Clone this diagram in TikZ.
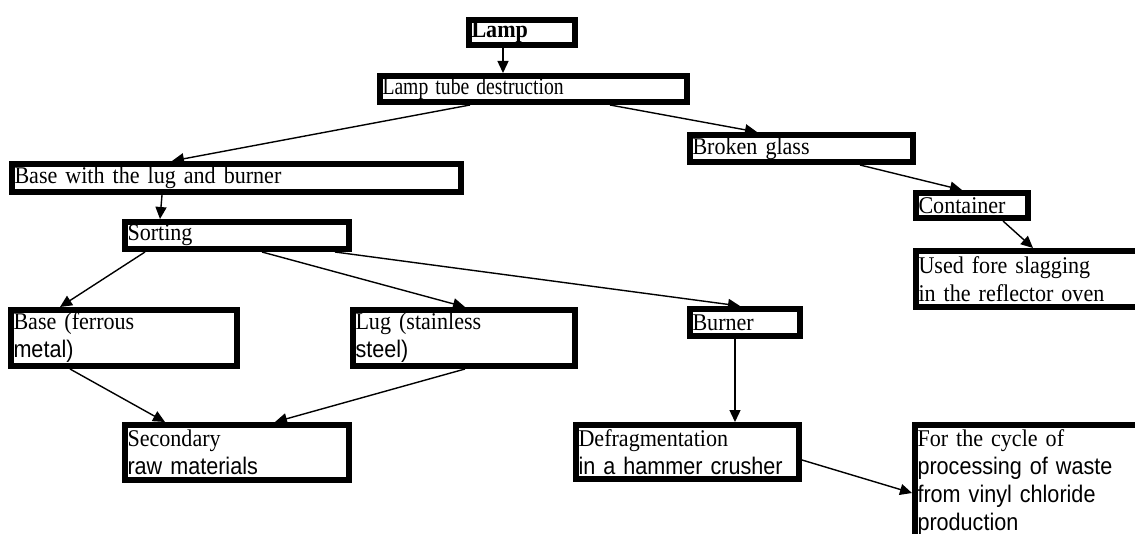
\documentclass[tikz,border=0pt]{standalone}
\usepackage{fontspec}
\setmainfont{Liberation Serif}[FakeStretch=0.92]
\setsansfont{Liberation Sans}[FakeStretch=0.9]
\usetikzlibrary{arrows.meta}
\begin{document}
\begin{tikzpicture}[x=1pt,y=-1pt,
  box/.style={draw, line width=6pt, inner xsep=2.5pt, inner ysep=0pt, align=left,
    font=\fontsize{24}{28}\selectfont, rectangle},
  arr/.style={-{Triangle[length=12pt,width=11pt]}, line width=1.4pt}]
\useasboundingbox (0,0) rectangle (1135,534);
\clip (0,0) rectangle (1135,534);
% boxes
\node[box, minimum width=106pt, minimum height=25pt, text width=101pt] (lamp) at (522,32.5) {\bfseries Lamp};
\node[box, minimum width=307pt, minimum height=26pt, text width=302pt] (tube) at (533.5,89) {\scalebox{0.89}[1]{Lamp tube destruction}};
\node[box, minimum width=223pt, minimum height=27pt, text width=218pt] (glass) at (801.5,148.5) {Broken glass};
\node[box, minimum width=449pt, minimum height=28pt, text width=444pt] (base0) at (236.5,178) {Base with the lug and burner};
\node[box, minimum width=112pt, minimum height=25pt, text width=107pt] (cont) at (972,205.5) {Container};
\node[box, minimum width=224pt, minimum height=27pt, text width=219pt] (sort) at (237,235.5) {Sorting};
\node[box, minimum width=241pt, minimum height=56pt, text width=236pt] (used) at (1036.5,279) {Used fore slagging\\in the reflector oven};
\node[box, minimum width=226pt, minimum height=56pt, text width=221pt] (ferr) at (124,338) {Base (ferrous\\\sffamily metal)};
\node[box, minimum width=222pt, minimum height=56pt, text width=217pt] (lug) at (464,338) {Lug (stainless\\\sffamily steel)};
\node[box, minimum width=110pt, minimum height=27pt, text width=105pt] (burn) at (745,322.5) {Burner};
\node[box, minimum width=224pt, minimum height=55pt, text width=219pt] (sec) at (237,452.5) {Secondary\\\sffamily raw materials};
\node[box, minimum width=223pt, minimum height=54pt, text width=218pt] (defr) at (687.5,452) {Defragmentation\\\sffamily in a hammer crusher};
\node[box, minimum width=242pt, minimum height=116pt, text width=237pt] (cyc) at (1036,483) {For the cycle of\\\sffamily processing of waste\\\sffamily from vinyl chloride\\\sffamily production};
% connectors
\draw[arr] (lamp.south -| 503,0) -- (tube.north -| 503,0);
\draw[arr] (tube.south -| 470,0) -- (base0.north -| 172,0);
\draw[arr] (tube.south -| 610,0) -- (glass.north -| 757,0);
\draw[arr] (base0.south -| 162,0) -- (sort.north -| 160,0);
\draw[arr] (glass.south -| 860,0) -- (cont.north -| 962,0);
\draw[arr] (cont.south -| 1003,0) -- (used.north -| 1033,0);
\draw[arr] (sort.south -| 145,0) -- (ferr.north -| 60,0);
\draw[arr] (sort.south -| 262,0) -- (lug.north -| 465,0);
\draw[arr] (sort.south -| 335,0) -- (burn.north -| 740,0);
\draw[arr] (ferr.south -| 70,0) -- (sec.north -| 165,0);
\draw[arr] (lug.south -| 465,0) -- (sec.north -| 275,0);
\draw[arr] (burn.south -| 735,0) -- (defr.north -| 735,0);
\draw[arr] (defr.east |- 0,460) -- (cyc.west |- 0,493);
\end{tikzpicture}
\end{document}
